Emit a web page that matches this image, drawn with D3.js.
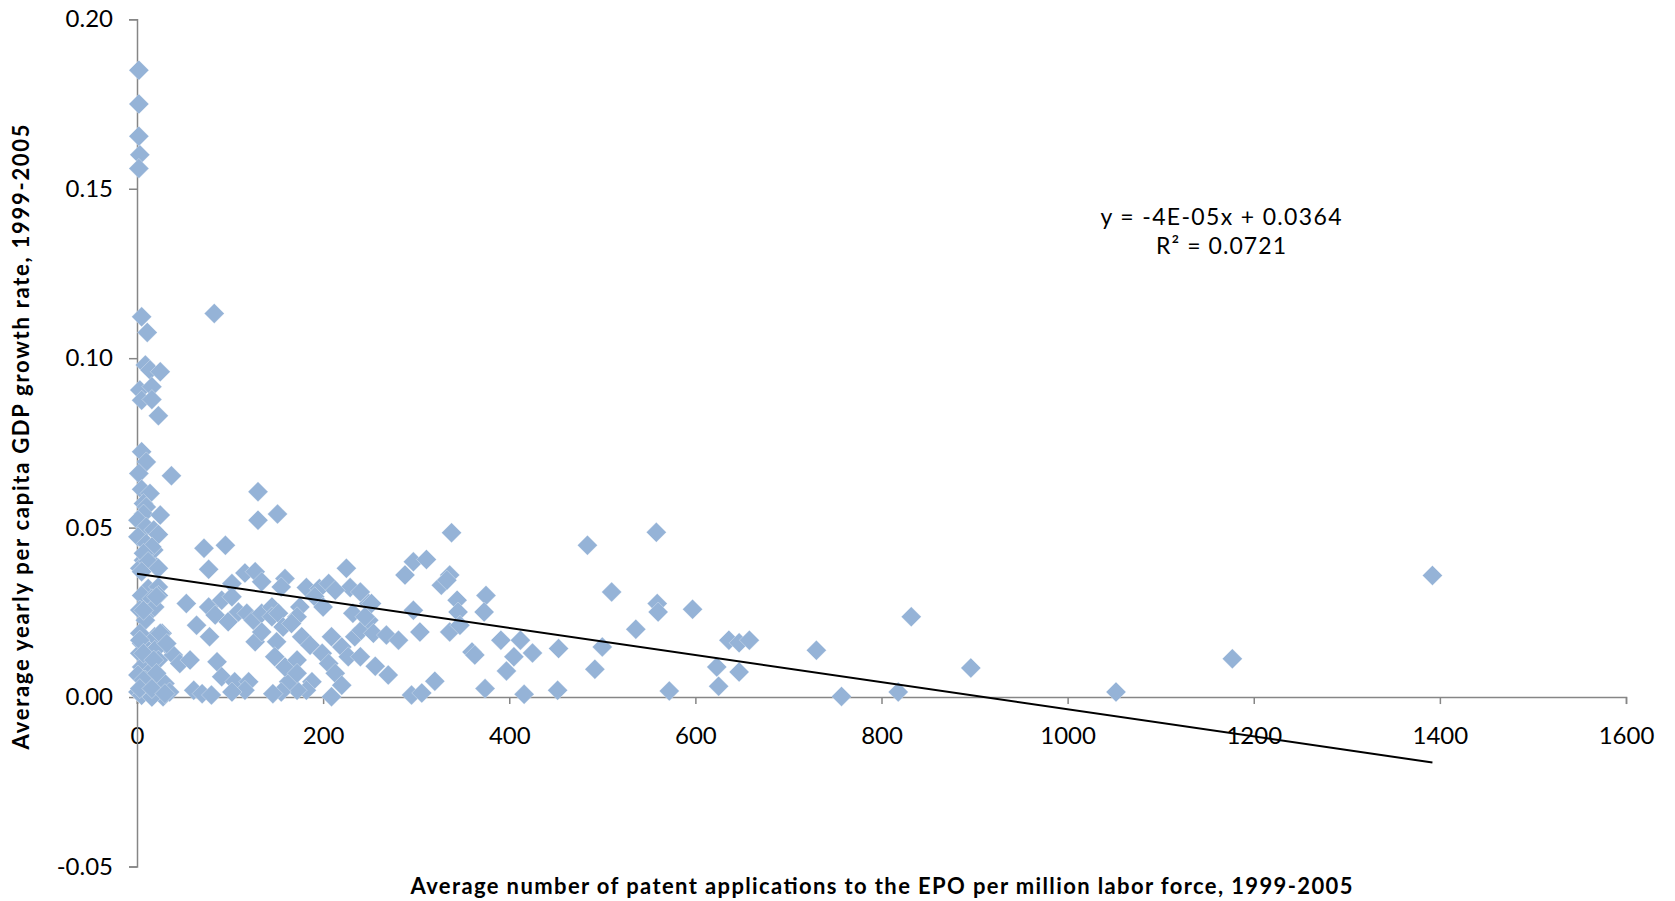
<!DOCTYPE html>
<html>
<head>
<meta charset="utf-8">
<script src="https://cdn.jsdelivr.net/npm/d3@7"></script>
<style>
  body { margin: 0; background: #fff; }
  text { font-family: Lato, 'Open Sans', sans-serif; fill: #000; }
</style>
</head>
<body>
<main></main>
<script>
// patent applications per million labor force (x) and GDP growth (y)
const patents = [
  2, 2, 2, 3, 2, 5, 11, 83, 9, 14, 25, 3, 16, 5, 16, 23, 5, 10, 2, 37,
  5, 14, 130, 7, 10, 7, 25, 1, 10, 1, 18, 10, 18, 7, 3, 21, 23, 16, 7, 12,
  23, 5, 130, 151, 72, 95, 77, 116, 127, 134, 102, 159, 155, 182, 196, 206, 225, 229, 213, 191,
  200, 175, 172, 12, 23, 5, 16, 23, 53, 3, 12, 19, 9, 77, 84, 91, 102, 98, 64, 78,
  109, 118, 125, 134, 145, 145, 152, 157, 166, 127, 150, 134, 177, 186, 209, 220, 234, 241, 249, 232,
  249, 227, 199, 206, 213, 220, 209, 188, 182, 172, 163, 155, 146, 148, 159, 172, 172, 86, 91, 105,
  120, 116, 102, 61, 70, 80, 39, 46, 57, 27, 30, 19, 3, 5, 3, 12, 19, 23, 5, 16,
  1, 9, 23, 30, 1, 10, 19, 28, 35, 5, 16, 21, 7, 25, 3, 32, 7, 18, 21, 7,
  3, 16, 30,
  338, 484, 558, 297, 311, 288, 336, 327, 333, 375, 373, 510, 344, 345, 297, 252, 245, 240, 254, 268,
  281, 304, 336, 347, 240, 256, 270, 295, 306, 320, 360, 363, 374, 391, 397, 405, 412, 425, 416, 453,
  452, 492, 500, 536, 559, 560, 597, 572, 623, 625, 636, 647, 658, 647, 730, 757, 818, 832, 896, 1052,
  1177, 1392
]
const growth = [
  0.185, 0.175, 0.1655, 0.160, 0.156, 0.1122, 0.1076, 0.1132, 0.098, 0.0965, 0.096, 0.0906, 0.0916, 0.0876, 0.0878, 0.083, 0.0724, 0.0694, 0.066, 0.0653,
  0.0613, 0.0601, 0.0606, 0.0571, 0.0561, 0.054, 0.0537, 0.0522, 0.0502, 0.0473, 0.0493, 0.0453, 0.0434, 0.0404, 0.038, 0.0384, 0.048, 0.0443, 0.0424, 0.040,
  0.038, 0.037, 0.0522, 0.054, 0.0439, 0.0448, 0.0377, 0.0366, 0.037, 0.034, 0.0335, 0.035, 0.0325, 0.0323, 0.032, 0.0335, 0.038, 0.0323, 0.0315, 0.0296,
  0.0266, 0.0266, 0.0237, 0.032, 0.0325, 0.030, 0.029, 0.030, 0.0276, 0.0257, 0.0247, 0.0266, 0.0227, 0.0266, 0.0242, 0.0286, 0.0296, 0.0222, 0.0212, 0.0178,
  0.0251, 0.0247, 0.0227, 0.0247, 0.0266, 0.0237, 0.0247, 0.0207, 0.0217, 0.0163, 0.0163, 0.0192, 0.0178, 0.0153, 0.0178, 0.0148, 0.0178, 0.0197, 0.0227, 0.0247,
  0.0276, 0.0119, 0.0129, 0.0099, 0.0070, 0.0035, 0.0001, 0.0045, 0.002, 0.002, 0.0045, 0.0015, 0.001, 0.0119, 0.0089, 0.0109, 0.007, 0.0104, 0.006, 0.0045,
  0.0045, 0.002, 0.0015, 0.002, 0.001, 0.0006, 0.0124, 0.0099, 0.0109, 0.0188, 0.0158, 0.0178, 0.0188, 0.0158, 0.0129, 0.0119, 0.0138, 0.0109, 0.0089, 0.0079,
  0.0065, 0.005, 0.0055, 0.004, 0.0015, 0.002, 0.0015, 0.0001, 0.0015, 0.0005, 0.0, 0.0296, 0.0256, 0.0188, 0.0168, 0.0158, 0.0129, 0.0109, 0.007, 0.005,
  0.0025, 0.0025, 0.001,
  0.0485, 0.0448, 0.0486, 0.0399, 0.0406, 0.036, 0.036, 0.033, 0.0345, 0.030, 0.0251, 0.031, 0.0286, 0.0251, 0.0256, 0.0276, 0.0237, 0.031, 0.0188, 0.0183,
  0.0168, 0.0192, 0.0192, 0.0212, 0.0119, 0.0091, 0.0065, 0.0006, 0.0012, 0.0047, 0.0133, 0.0124, 0.0025, 0.0168, 0.0077, 0.0119, 0.0168, 0.013, 0.0008, 0.0143,
  0.002, 0.0082, 0.0148, 0.020, 0.0276, 0.0251, 0.0259, 0.0018, 0.0089, 0.0032, 0.0168, 0.016, 0.0168, 0.0074, 0.0138, 0.0002, 0.0015, 0.0237, 0.0086, 0.0015,
  0.0113, 0.0359
]
const xTicks = [0, 200, 400, 600, 800, 1000, 1200, 1400, 1600]
const yTicks = [-0.05, 0, 0.05, 0.10, 0.15, 0.20]
// linear trendline as printed on the chart
const trendSlope = -0.00004
const trendIntercept = 0.0364
const trendLabel = ['y = -4E-05x + 0.0364', 'R² = 0.0721']
const xTitle = 'Average number of patent applications to the EPO per million labor force, 1999-2005'
const yTitle = 'Average yearly per capita GDP growth rate, 1999-2005'

const width = 1675
const height = 901
const axisColor = '#868686'
const markerColor = '#95B3D7'

const svg = d3.select('main')
  .append('svg')
  .attr('width', width)
  .attr('height', height)

const x = d3.scaleLinear().domain([0, 1600]).range([137, 1626])
const y = d3.scaleLinear().domain([-0.05, 0.20]).range([866.5, 19.3])

// x axis sits on y = 0
const xAxis = svg.append('g')
  .attr('transform', 'translate(0,' + y(0) + ')')
  .call(d3.axisBottom(x).tickValues(xTicks).tickSize(7).tickPadding(23).tickFormat(d3.format('d')))
xAxis.select('.domain').attr('stroke', axisColor).attr('stroke-width', 1.5)
xAxis.selectAll('.tick line').attr('stroke', axisColor).attr('stroke-width', 1.5)
xAxis.selectAll('.tick text').style('font-size', '24px').attr('fill', '#000')

const yAxis = svg.append('g')
  .attr('transform', 'translate(' + x(0) + ',0)')
  .call(d3.axisLeft(y).tickValues(yTicks).tickSize(8).tickPadding(16).tickFormat(d3.format('.2f')))
yAxis.select('.domain').attr('stroke', axisColor).attr('stroke-width', 1.5)
yAxis.selectAll('.tick line').attr('stroke', axisColor).attr('stroke-width', 1.5)
yAxis.selectAll('.tick text').style('font-size', '24px').attr('fill', '#000')
yAxis.selectAll('.tick text').text(d => d < 0 ? '-' + d3.format('.2f')(-d) : d3.format('.2f')(d))

const points = patents.map((p, i) => ({ x: p, y: growth[i] }))

svg.append('g')
  .selectAll('path')
  .data(points)
  .enter()
  .append('path')
  .attr('d', d3.symbol().type(d3.symbolSquare).size(200))
  .attr('transform', d => 'translate(' + x(d.x) + ',' + y(d.y) + ') rotate(45)')
  .style('fill', markerColor)
  .style('stroke', '#fff')
  .style('stroke-width', 0.4)
  .style('stroke-opacity', 0.7)

// trendline from 0 to the largest x in the data
const xMax = d3.max(patents)
svg.append('line')
  .attr('x1', x(0))
  .attr('y1', y(trendIntercept))
  .attr('x2', x(xMax))
  .attr('y2', y(trendIntercept + trendSlope * xMax))
  .style('stroke', '#000')
  .style('stroke-width', 2)

// the font here is narrower than the original, so stretch the spacing
const labelWidths = [241, 130]
svg.append('g')
  .selectAll('text')
  .data(trendLabel)
  .enter()
  .append('text')
  .attr('x', 1221)
  .attr('y', (d, i) => 216 + i * 29)
  .attr('text-anchor', 'middle')
  .attr('dominant-baseline', 'central')
  .attr('textLength', (d, i) => labelWidths[i])
  .attr('lengthAdjust', 'spacing')
  .style('font-size', '23px')
  .text(d => d)

svg.append('text')
  .attr('x', (x(0) + x(1600)) / 2)
  .attr('y', 885)
  .attr('text-anchor', 'middle')
  .attr('dominant-baseline', 'central')
  .attr('textLength', 942)
  .attr('lengthAdjust', 'spacing')
  .style('font-size', '22px')
  .style('font-weight', 'bold')
  .text(xTitle)

svg.append('text')
  .attr('transform', 'translate(20,' + ((y(-0.05) + y(0.20)) / 2 - 6) + ') rotate(-90)')
  .attr('text-anchor', 'middle')
  .attr('dominant-baseline', 'central')
  .attr('textLength', 625)
  .attr('lengthAdjust', 'spacing')
  .style('font-size', '22px')
  .style('font-weight', 'bold')
  .text(yTitle)
</script>
</body>
</html>
